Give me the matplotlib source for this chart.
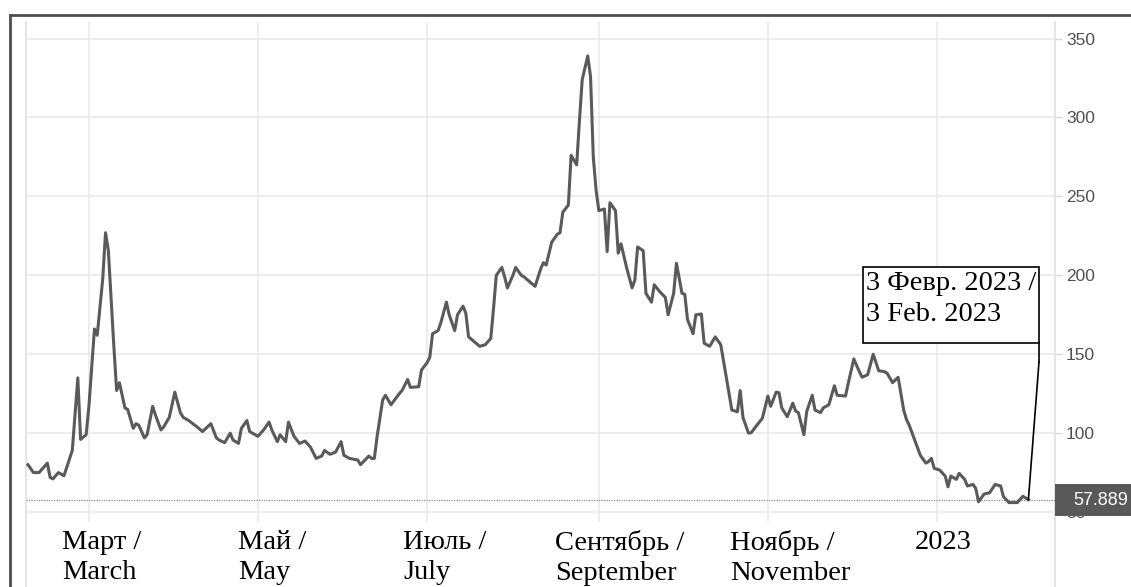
#!/usr/bin/env python3
"""Daily price chart, Feb 2022 - Feb 2023, with bilingual month labels."""

import matplotlib

matplotlib.use("Agg")
import matplotlib.dates as mdates
import matplotlib.pyplot as plt
import numpy as np
import pandas as pd
from matplotlib.lines import Line2D
from matplotlib.patches import Rectangle
from matplotlib.transforms import ScaledTranslation, blended_transform_factory

# =============================================================================
# Data
# =============================================================================

dates = [
    "2022-02-07", "2022-02-09", "2022-02-11", "2022-02-14", "2022-02-15", "2022-02-16",
    "2022-02-18", "2022-02-20", "2022-02-23", "2022-02-25", "2022-02-26", "2022-02-28",
    "2022-03-01", "2022-03-03", "2022-03-04", "2022-03-06", "2022-03-07", "2022-03-08",
    "2022-03-10", "2022-03-11", "2022-03-12", "2022-03-14", "2022-03-15", "2022-03-17",
    "2022-03-18", "2022-03-19", "2022-03-21", "2022-03-22", "2022-03-24", "2022-03-25",
    "2022-03-27", "2022-03-28", "2022-03-30", "2022-04-01", "2022-04-03", "2022-04-04",
    "2022-04-06", "2022-04-09", "2022-04-11", "2022-04-14", "2022-04-16", "2022-04-17",
    "2022-04-19", "2022-04-21", "2022-04-22", "2022-04-24", "2022-04-25", "2022-04-27",
    "2022-04-28", "2022-05-01", "2022-05-03", "2022-05-05", "2022-05-06", "2022-05-08",
    "2022-05-09", "2022-05-11", "2022-05-12", "2022-05-14", "2022-05-16", "2022-05-18",
    "2022-05-20", "2022-05-22", "2022-05-24", "2022-05-25", "2022-05-27", "2022-05-29",
    "2022-05-31", "2022-06-01", "2022-06-03", "2022-06-06", "2022-06-07", "2022-06-10",
    "2022-06-11", "2022-06-12", "2022-06-13", "2022-06-15", "2022-06-16", "2022-06-18",
    "2022-06-21", "2022-06-22", "2022-06-24", "2022-06-25", "2022-06-28", "2022-06-29",
    "2022-07-01", "2022-07-02", "2022-07-03", "2022-07-05", "2022-07-06", "2022-07-08",
    "2022-07-09", "2022-07-11", "2022-07-12", "2022-07-14", "2022-07-15", "2022-07-16",
    "2022-07-18", "2022-07-20", "2022-07-22", "2022-07-24", "2022-07-25", "2022-07-26",
    "2022-07-28", "2022-07-29", "2022-07-30", "2022-08-01", "2022-08-02", "2022-08-04",
    "2022-08-05", "2022-08-07", "2022-08-09", "2022-08-11", "2022-08-12", "2022-08-13",
    "2022-08-15", "2022-08-17", "2022-08-18", "2022-08-19", "2022-08-21", "2022-08-22",
    "2022-08-24", "2022-08-25", "2022-08-26", "2022-08-28", "2022-08-29", "2022-08-30",
    "2022-08-31", "2022-09-01", "2022-09-03", "2022-09-04", "2022-09-05", "2022-09-07",
    "2022-09-08", "2022-09-09", "2022-09-11", "2022-09-13", "2022-09-14", "2022-09-15",
    "2022-09-17", "2022-09-18", "2022-09-20", "2022-09-21", "2022-09-23", "2022-09-25",
    "2022-09-26", "2022-09-28", "2022-09-29", "2022-10-01", "2022-10-02", "2022-10-03",
    "2022-10-05", "2022-10-06", "2022-10-08", "2022-10-09", "2022-10-11", "2022-10-13",
    "2022-10-15", "2022-10-19", "2022-10-21", "2022-10-22", "2022-10-23", "2022-10-25",
    "2022-10-26", "2022-10-28", "2022-10-30", "2022-11-01", "2022-11-02", "2022-11-04",
    "2022-11-05", "2022-11-06", "2022-11-08", "2022-11-10", "2022-11-11", "2022-11-12",
    "2022-11-14", "2022-11-15", "2022-11-17", "2022-11-18", "2022-11-20", "2022-11-21",
    "2022-11-23", "2022-11-25", "2022-11-26", "2022-11-29", "2022-11-30", "2022-12-02",
    "2022-12-04", "2022-12-05", "2022-12-07", "2022-12-09", "2022-12-11", "2022-12-13",
    "2022-12-14", "2022-12-16", "2022-12-18", "2022-12-20", "2022-12-21", "2022-12-22",
    "2022-12-24", "2022-12-26", "2022-12-28", "2022-12-29", "2022-12-30", "2022-12-31",
    "2023-01-02", "2023-01-04", "2023-01-05", "2023-01-06", "2023-01-08", "2023-01-09",
    "2023-01-11", "2023-01-12", "2023-01-14", "2023-01-15", "2023-01-16", "2023-01-18",
    "2023-01-20", "2023-01-22", "2023-01-24", "2023-01-25", "2023-01-27", "2023-01-30",
    "2023-01-31", "2023-02-01", "2023-02-03",
]

values = [
    80, 75, 75, 81, 72, 71,
    75, 73, 89, 135, 96, 99,
    117, 166, 162, 198, 227, 216,
    155, 127, 132, 116, 115, 103,
    106, 105, 97, 99, 117, 111.5,
    102, 104, 110, 126, 113, 110,
    108, 104, 101, 106, 97, 95.6,
    94, 100, 95.6, 93.5, 103, 108,
    101, 98, 102, 107, 102, 94.6,
    99, 94.6, 107, 98, 93.5, 95,
    91, 84, 85.5, 89, 86.6, 88,
    94.6, 86, 84, 83, 80, 85.5,
    84, 84, 98, 121, 124, 118,
    125, 127, 134, 129, 129.4, 140,
    144.6, 148, 163, 165, 170, 183,
    175, 165, 175, 180.5, 176, 161,
    158, 155, 156, 160, 179, 200,
    205, 199, 192, 200, 205, 200,
    199, 196, 193, 204, 208, 206.5,
    221, 226, 227, 240, 244.5, 276,
    270, 298, 324, 339, 326, 275,
    254, 241, 242, 215, 246, 241,
    214, 220, 205, 192, 197, 218,
    215.6, 188.6, 183, 194, 189.6, 186,
    175, 188.6, 207.6, 188.6, 188, 172,
    163, 175, 175.5, 157, 155, 161,
    156, 114.6, 113.6, 127, 110, 100,
    100.3, 105, 109.4, 123.5, 117, 126,
    125.6, 116, 110.4, 119, 114, 113,
    99, 113.6, 124, 114.6, 113, 116,
    118, 130, 124, 123.5, 131.6, 147,
    139, 135.4, 137, 150, 139.5, 139,
    138, 132, 135.4, 114.6, 108.7, 105,
    95.6, 86, 81, 82, 84, 77.7,
    76.6, 72.8, 66, 72.8, 70.7, 74.5,
    70.7, 66.5, 67.5, 65, 56.5, 61.4,
    62.2, 67.5, 66.5, 59.7, 56, 56,
    58, 60, 57.889,
]

y_ticks = [50, 100, 150, 200, 250, 300, 350]
month_ticks = ["2022-03-01", "2022-05-01", "2022-07-01", "2022-09-01", "2022-11-01", "2023-01-01"]
month_labels = [
    "Март /\nMarch",
    "Май /\nMay",
    "Июль /\nJuly",
    "Сентябрь /\nSeptember",
    "Ноябрь /\nNovember",
    "2023",
]
callout_text = "3 Февр. 2023 /\n3 Feb. 2023"

# =============================================================================
# Style
# =============================================================================

DPI = 100
W, H = 1131, 587
LINE_COLOR = "#5a5a5a"
GRID_COLOR = "#e8e8e8"
SERIF = "Liberation Serif"
SANS = "Liberation Sans"
# horizontal shift of each month label relative to its grid line (pixels)
LABEL_SHIFT_PX = [-27, -20, -24, -44, -38, -22]

fig = plt.figure(figsize=(W / DPI, H / DPI), dpi=DPI)
ax = fig.add_axes([26 / W, 1 - 522 / H, (1055 - 26) / W, 500 / H])

x = pd.to_datetime(dates)
ax.plot(x, values, color=LINE_COLOR, linewidth=2.2, solid_joinstyle="round", zorder=3)

# limits
base = mdates.date2num(pd.Timestamp("2022-03-01"))
ax.set_xlim(base - 22.7, base + 348.6)
ax.set_ylim(43.7, 360.5)

# grid
ax.set_xticks(pd.to_datetime(month_ticks))
ax.set_yticks(y_ticks)
ax.grid(True, color=GRID_COLOR, linewidth=1.1)
ax.tick_params(axis="x", length=0, labelbottom=False)
ax.yaxis.tick_right()
ax.tick_params(axis="y", length=5, width=1, color="#d9d9d9", pad=3,
               labelsize=12.5, labelcolor="#505050")
for lab in ax.get_yticklabels():
    lab.set_family(SANS)
for sp in ax.spines.values():
    sp.set_visible(False)

# side lines running down into the label strip
for xa in (0.0, 1.0):
    ax.add_line(Line2D([xa, xa], [1.0, -0.14], transform=ax.transAxes, color="#dcdcdc",
                       linewidth=1.1, clip_on=False, zorder=1))

# month labels
lab_trans = blended_transform_factory(ax.transData, ax.transAxes)
for d, txt, dx in zip(month_ticks, month_labels, LABEL_SHIFT_PX):
    off = ScaledTranslation(dx / DPI, 0, fig.dpi_scale_trans)
    ax.text(mdates.date2num(pd.Timestamp(d)), -0.016, txt, transform=lab_trans + off,
            ha="left", va="top", fontsize=20.5, family=SERIF, linespacing=1.27,
            color="black", clip_on=False)

# last price: dotted level line and tag
last = values[-1]
ax.axhline(last, color="#8c8c8c", linestyle=(0, (1, 1)), linewidth=0.9, zorder=2)
tag_trans = blended_transform_factory(ax.transAxes, ax.transData)
ax.plot([1.0, 1.1], [last, last], transform=tag_trans, color="#595959", linewidth=23,
        solid_capstyle="butt", clip_on=False, zorder=5)
ax.annotate(f"{last:.3f}", xy=(1.0, last), xycoords=tag_trans, xytext=(18, -1),
            textcoords="offset pixels", ha="left", va="center", color="white",
            fontsize=13, family=SANS, zorder=6, annotation_clip=False)

# callout box for the last date (box drawn in figure pixels)
box_l, box_t, box_r, box_b = 863, 267, 1039, 343
fig.add_artist(Rectangle((box_l, H - box_b), box_r - box_l, box_b - box_t, transform=None,
                         fc="white", ec="black", lw=1.2, zorder=7))
fig.text(box_l + 3, H - box_t - 4, callout_text, transform=None, ha="left", va="top",
         fontsize=20.5, family=SERIF, linespacing=1.32, zorder=8)
# leader: short drop from the box corner, then down to the last point
fig.add_artist(Line2D([box_r, box_r], [H - box_b, H - box_b - 19], transform=None,
                      color="black", lw=1.2, zorder=7))
ax.annotate("", xy=(x[-1], last), xytext=(box_r, H - box_b - 19), textcoords="figure pixels",
            arrowprops=dict(arrowstyle="-", color="black", lw=1.2, shrinkA=0, shrinkB=0),
            zorder=7)

# outer frame (left and top edges only are inside the picture)
fig.add_artist(Line2D([10 / W, 10 / W], [0, 1 - 15 / H], transform=fig.transFigure,
                      color="#4d4d4d", linewidth=2))
fig.add_artist(Line2D([10 / W, 1], [1 - 15 / H, 1 - 15 / H], transform=fig.transFigure,
                      color="#4d4d4d", linewidth=2))

fig.savefig("out.png", dpi=DPI, facecolor="white")
plt.close(fig)
